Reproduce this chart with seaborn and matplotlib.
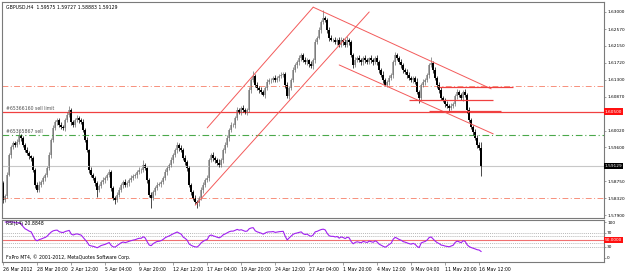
import numpy as np
import pandas as pd
import seaborn as sns
import matplotlib.pyplot as plt
import matplotlib.transforms as mtransforms

# GBPUSD H4 closes (26 Mar 2012 -> 16 May 2012)
close = [
    1.5828, 1.5838, 1.5891, 1.5941, 1.5961, 1.5971, 1.5966, 1.5974, 1.5989, 1.5984,
    1.5966, 1.5953, 1.5946, 1.5938, 1.5933, 1.5903, 1.5866, 1.5853, 1.5866, 1.5873,
    1.5883, 1.5891, 1.5908, 1.5941, 1.5979, 1.6009, 1.6024, 1.6029, 1.6016, 1.6011,
    1.6009, 1.6029, 1.6041, 1.6054, 1.6024, 1.6016, 1.6029, 1.6034, 1.6029, 1.6024,
    1.6004, 1.5979, 1.5953, 1.5903, 1.5891, 1.5883, 1.5871, 1.5853, 1.5863, 1.5873,
    1.5878, 1.5883, 1.5891, 1.5898, 1.5858, 1.5833, 1.5828, 1.5841, 1.5853, 1.5866,
    1.5873, 1.5866, 1.5871, 1.5878, 1.5883, 1.5888, 1.5891, 1.5898, 1.5903, 1.5903,
    1.5916, 1.5908, 1.5878, 1.5841, 1.5833, 1.5848, 1.5858, 1.5866, 1.5868, 1.5873,
    1.5883, 1.5898, 1.5908, 1.5916, 1.5928, 1.5941, 1.5953, 1.5966, 1.5959, 1.5953,
    1.5933, 1.5923, 1.5908, 1.5866, 1.5848, 1.5833, 1.5823, 1.5820, 1.5833, 1.5853,
    1.5866, 1.5878, 1.5883, 1.5928, 1.5941, 1.5933, 1.5928, 1.5921, 1.5916, 1.5928,
    1.5953, 1.5966, 1.5984, 1.6004, 1.6016, 1.6016, 1.6034, 1.6054, 1.6049, 1.6059,
    1.6054, 1.6049, 1.6054, 1.6104, 1.6129, 1.6139, 1.6117, 1.6109, 1.6104, 1.6099,
    1.6092, 1.6109, 1.6124, 1.6129, 1.6129, 1.6134, 1.6129, 1.6134, 1.6139, 1.6142,
    1.6144, 1.6117, 1.6089, 1.6109, 1.6129, 1.6154, 1.6167, 1.6174, 1.6184, 1.6192,
    1.6179, 1.6174, 1.6179, 1.6169, 1.6164, 1.6179, 1.6225, 1.6235, 1.6255, 1.6275,
    1.6285, 1.6280, 1.6255, 1.6235, 1.6230, 1.6230, 1.6225, 1.6230, 1.6217, 1.6230,
    1.6225, 1.6217, 1.6230, 1.6225, 1.6192, 1.6167, 1.6179, 1.6184, 1.6179, 1.6174,
    1.6184, 1.6179, 1.6174, 1.6184, 1.6179, 1.6174, 1.6184, 1.6174, 1.6154, 1.6142,
    1.6129, 1.6117, 1.6124, 1.6134, 1.6142, 1.6174, 1.6192, 1.6184, 1.6174, 1.6167,
    1.6154, 1.6149, 1.6142, 1.6134, 1.6129, 1.6134, 1.6124, 1.6099, 1.6084, 1.6117,
    1.6124, 1.6129, 1.6142, 1.6167, 1.6172, 1.6154, 1.6134, 1.6117, 1.6104, 1.6084,
    1.6079, 1.6069, 1.6064, 1.6059, 1.6064, 1.6069, 1.6089, 1.6099, 1.6092, 1.6084,
    1.6099, 1.6092, 1.6054, 1.6029, 1.6011, 1.5999, 1.5984, 1.5966, 1.5958, 1.5913,
]
first_open = 1.5870

# upper / lower shadows in pips
up_wick = [
    6, 4, 8, 5, 6, 4, 5, 7, 9, 5, 4, 6, 8, 5, 4, 6, 5, 7, 10, 6,
    5, 4, 6, 8, 5, 7, 6, 4, 5, 9, 6, 5, 7, 9, 6, 5, 4, 8, 6, 5,
    7, 5, 6, 4, 8, 6, 5, 4, 6, 5, 7, 4, 5, 8, 6, 5, 4, 6, 7, 5,
    6, 8, 5, 4, 7, 6, 5, 6, 9, 5, 12, 6, 4, 5, 7, 6, 5, 8, 6, 4,
    5, 7, 6, 5, 9, 6, 5, 7, 4, 6, 5, 8, 6, 5, 4, 6, 7, 5, 6, 8,
    6, 5, 8, 6, 4, 7, 6, 5, 9, 6, 5, 7, 6, 4, 8, 6, 5, 7, 5, 6,
    7, 6, 5, 8, 6, 12, 5, 6, 4, 7, 6, 5, 8, 6, 5, 4, 7, 6, 5, 8,
    6, 5, 7, 4, 6, 8, 5, 6, 9, 5, 6, 7, 5, 4, 8, 6, 7, 5, 8, 6,
    20, 6, 5, 7, 6, 4, 8, 5, 6, 7, 5, 6, 9, 5, 4, 6, 7, 5, 8, 6,
    5, 7, 6, 4, 8, 6, 5, 7, 6, 5, 9, 6, 4, 7, 5, 6, 8, 5, 6, 7,
    6, 5, 7, 8, 6, 4, 5, 9, 6, 5, 7, 6, 5, 4, 14, 6, 7, 5, 6, 8,
    5, 6, 7, 5, 8, 6, 4, 7, 6, 5, 6, 8, 5, 7, 6, 5, 8, 6, 7, 15,
]
dn_wick = [
    8, 5, 6, 4, 7, 5, 6, 4, 5, 8, 6, 5, 4, 7, 6, 5, 8, 4, 6, 5,
    6, 7, 5, 4, 8, 6, 5, 7, 6, 4, 5, 8, 6, 5, 7, 6, 4, 5, 8, 6,
    5, 6, 4, 8, 6, 5, 7, 18, 6, 5, 4, 7, 6, 5, 8, 6, 10, 5, 6, 4,
    7, 5, 6, 8, 5, 4, 6, 7, 5, 6, 5, 4, 8, 6, 25, 5, 7, 6, 4, 8,
    6, 5, 7, 4, 6, 8, 5, 6, 7, 5, 4, 6, 8, 5, 7, 6, 5, 12, 6, 5,
    7, 6, 4, 8, 5, 6, 7, 5, 6, 4, 8, 6, 5, 7, 6, 5, 8, 4, 6, 7,
    5, 6, 8, 4, 7, 5, 6, 5, 8, 6, 4, 7, 5, 6, 8, 5, 4, 6, 7, 5,
    6, 7, 5, 8, 4, 6, 5, 7, 6, 8, 5, 4, 6, 7, 5, 6, 8, 5, 4, 7,
    6, 5, 8, 7, 4, 6, 5, 8, 6, 4, 7, 5, 6, 8, 5, 7, 6, 4, 5, 8,
    6, 7, 5, 4, 8, 6, 5, 7, 6, 5, 8, 4, 6, 7, 5, 8, 6, 5, 4, 7,
    6, 5, 8, 6, 4, 7, 5, 6, 12, 5, 6, 8, 4, 7, 5, 6, 5, 7, 8, 6,
    5, 7, 6, 8, 5, 4, 6, 7, 5, 6, 8, 5, 7, 6, 5, 8, 6, 7, 5, 25,
]

date_labels = ['26 Mar 2012', '28 Mar 20:00', '2 Apr 12:00', '5 Apr 04:00', '9 Apr 20:00',
               '12 Apr 12:00', '17 Apr 04:00', '19 Apr 20:00', '24 Apr 12:00', '27 Apr 04:00',
               '1 May 20:00', '4 May 12:00', '9 May 04:00', '11 May 20:00', '16 May 12:00']
date_bars = [0, 17, 34, 51, 68, 85, 102, 119, 136, 153, 170, 187, 204, 221, 238]

price_ticks = [1.63000, 1.62570, 1.62150, 1.61720, 1.61300, 1.60870,
               1.60020, 1.59600, 1.58750, 1.58320, 1.57900]

# chart objects (bar index, price)
channels = [((102, 1.6009), (155, 1.6312)),
            ((96, 1.5815), (183, 1.6300)),
            ((155, 1.6312), (244, 1.6107)),
            ((168, 1.6167), (245, 1.5994))]
short_levels = [(218, 255, 1.6112), (203, 245, 1.6079), (213, 249, 1.6051)]
sell_limit = 1.60500
sell_price = 1.5992
bid = 1.59129
dashdot_levels = [1.6114, 1.5833]

rsi_levels = [70, 60, 40, 30]
rsi_ticks = [100, 70, 30, 0]

# ---- build OHLC
n = len(close)
idx = np.arange(n)
opens = np.array([first_open] + close[:-1])
closes = np.array(close)
highs = np.maximum(opens, closes) + np.array(up_wick) / 10000
lows = np.minimum(opens, closes) - np.array(dn_wick) / 10000
bull = closes >= opens

s = pd.Series(closes)
d = s.diff()
ag = d.clip(lower=0).ewm(alpha=1 / 14, adjust=False).mean()
al = (-d.clip(upper=0)).ewm(alpha=1 / 14, adjust=False).mean()
rsi = 100 - 100 / (1 + ag / al)
rsi_df = pd.DataFrame({'bar': idx[1:], 'rsi': rsi.values[1:]})

sns.set_style('white')
plt.rcParams['font.family'] = ['DejaVu Sans']
FS = 3.3
FSY = 3.1

fig = plt.figure(figsize=(6.25, 2.71), dpi=100)
W, H = 625, 271
ax = fig.add_axes([2 / W, 1 - 218 / H, 602 / W, 216 / H])
ax2 = fig.add_axes([2 / W, 1 - 262 / H, 602 / W, 42 / H])

for a in (ax, ax2):
    a.set_facecolor('white')
    for sp in a.spines.values():
        sp.set_color('#7a7a7a')
        sp.set_linewidth(0.8)
    a.set_xlim(-0.6, 300.4)
    a.yaxis.tick_right()
    a.tick_params(axis='y', which='both', length=1.5, width=0.5, pad=0.7,
                  labelsize=FSY, colors='#7a7a7a', labelcolor='black', right=True, left=False)

# horizontal levels
ax.axhline(bid, color='#c8c8c8', lw=0.8)
for lv in dashdot_levels:
    ax.axhline(lv, color='#f7907c', lw=0.7, ls=(0, (6, 2.5, 1, 2.5)))
ax.axhline(sell_limit, color='#f04040', lw=0.9)
ax.axhline(sell_price, color='#4aa84a', lw=0.8, ls=(0, (6, 2.5, 1, 2.5)))

# candles
ax.vlines(idx, lows, highs, colors=np.where(bull, '#6a6a6a', 'black'), lw=0.5)
bodies_bot = np.minimum(opens, closes)
bodies_h = np.maximum(np.abs(closes - opens), 0.00006)
ax.bar(idx, bodies_h, bottom=bodies_bot, width=0.95,
       color=np.where(bull, '#ababab', 'black'), edgecolor='none')

# trend channels
for (x0, y0), (x1, y1) in channels:
    sns.lineplot(x=[x0, x1], y=[y0, y1], ax=ax, color='#f35a5a', lw=0.7)
for x0, x1, lv in short_levels:
    ax.hlines(lv, x0, x1, color='#f04040', lw=0.9)

ax.set_ylim(1.57828, 1.63250)
ax.set_yticks(price_ticks)
ax.set_yticklabels([f'{p:.5f}' for p in price_ticks])
ax.set_xticks([])
ax.set_xlabel('')
ax.set_ylabel('')

blend = mtransforms.blended_transform_factory(ax.transAxes, ax.transData)
ax.text(1.001, sell_limit, '1.60500', transform=blend, ha='left', va='center', fontsize=FSY,
        color='white', bbox=dict(boxstyle='square,pad=0.25', fc='#ff1010', ec='none'))
ax.text(1.001, bid, '1.59129', transform=blend, ha='left', va='center', fontsize=FSY,
        color='white', bbox=dict(boxstyle='square,pad=0.25', fc='black', ec='none'))

ax.text(0.006, 0.985, 'GBPUSD,H4  1.59575 1.59727 1.58883 1.59129', transform=ax.transAxes,
        ha='left', va='top', fontsize=FS, color='black')
ax.text(0.006, sell_limit + 0.0002, '#65366160 sell limit', transform=blend,
        ha='left', va='bottom', fontsize=FS, color='#505050')
ax.text(0.006, sell_price + 0.0002, '#65365867 sell', transform=blend,
        ha='left', va='bottom', fontsize=FS, color='#505050')

# RSI window
for lv in rsi_levels:
    ax2.axhline(lv, color='#a0a0a0', lw=0.5, ls=(0, (1.5, 1.5)))
ax2.axhline(50, color='#f07070', lw=0.8)
sns.lineplot(data=rsi_df, x='bar', y='rsi', ax=ax2, color='#a020f0', lw=0.8)
ax2.set_ylim(-12, 105.6)
ax2.set_yticks(rsi_ticks)
ax2.set_yticklabels([str(v) for v in rsi_ticks])
ax2.set_ylabel('')
ax2.set_xlabel('')
blend2 = mtransforms.blended_transform_factory(ax2.transAxes, ax2.transData)
ax2.text(1.001, 50, '50.0000', transform=blend2, ha='left', va='center', fontsize=FSY,
         color='white', bbox=dict(boxstyle='square,pad=0.25', fc='#ff1010', ec='none'))
ax2.text(0.006, 0.97, 'RSI(14) 20.8848', transform=ax2.transAxes, ha='left', va='top',
         fontsize=FS, color='black')
ax2.text(0.006, 0.04, 'FxPro MT4, \u00a9 2001-2012, MetaQuotes Software Corp.', transform=ax2.transAxes,
         ha='left', va='bottom', fontsize=FS, color='black')

ax2.set_xticks(date_bars)
ax2.set_xticklabels(date_labels)
ax2.tick_params(axis='x', length=2, width=0.5, pad=1.5, labelsize=FS, colors='#7a7a7a',
                labelcolor='black', bottom=True)
for lab in ax2.get_xticklabels():
    lab.set_ha('left')

fig.savefig('out.png', dpi=100, facecolor='white')
